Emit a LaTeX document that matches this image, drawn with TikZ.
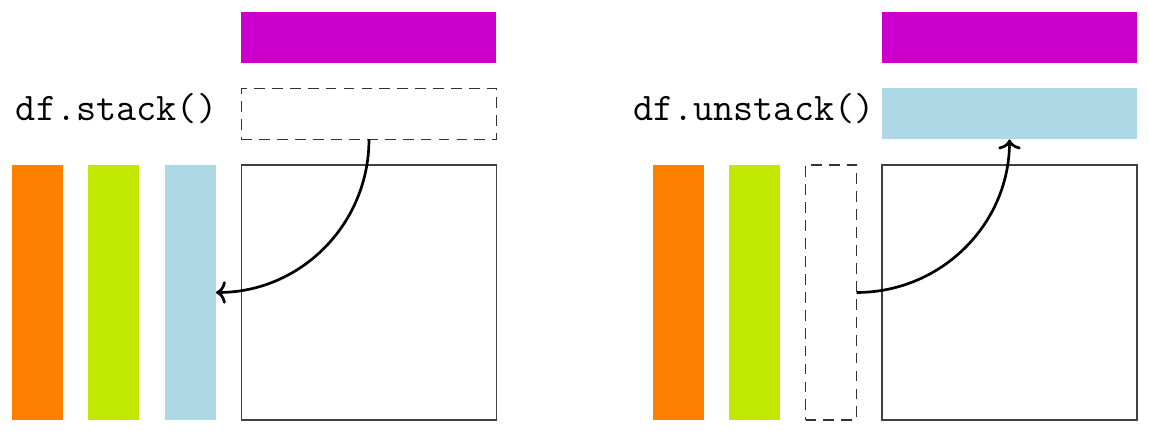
\documentclass[tikz,border=0pt]{standalone}
\usepackage{tikz}
\usetikzlibrary{positioning,arrows.meta}
\definecolor{barorange}{RGB}{255,127,0}
\definecolor{bargreen}{RGB}{192,232,0}
\definecolor{barblue}{RGB}{173,216,230}
\definecolor{barmagenta}{RGB}{204,0,204}

\begin{document}
\begin{tikzpicture}[x=0.5cm,y=0.5cm,
    col/.style={minimum width=1cm,minimum height=5cm,inner sep=0pt,outer sep=0pt,anchor=south west},
    row/.style={minimum width=5cm,minimum height=1cm,inner sep=0pt,outer sep=0pt,anchor=south west},
    frame/.style={draw=black!75,line width=0.9pt,minimum size=5cm,inner sep=0pt,outer sep=0pt,anchor=south west},
    slot/.style={draw=black!80,line width=0.9pt,dash pattern=on 6pt off 4pt},
    move/.style={-{To[length=5.5pt,width=12.5pt]},line width=1.5pt},
    lbl/.style={font=\fontsize{21.8}{26}\selectfont\ttfamily,inner sep=0pt,yshift=3pt}]
\useasboundingbox (-0.47,-0.43) rectangle (44.59,16.47);

% df.stack()
\node[col,fill=barorange] (s1) at (0,0) {};
\node[col,fill=bargreen] (s2) at (3,0) {};
\node[col,fill=barblue] (s3) at (6,0) {};
\node[frame] (sframe) at (9,0) {};
\node[row,slot] (sslot) at (9,11) {};
\node[row,fill=barmagenta] (stop) at (9,14) {};
\node[lbl,left=0.47cm of sslot] (slabel) {df.stack()};
\draw[move] (sslot.south) to[out=-90,in=0] (s3.east);

% df.unstack()
\node[col,fill=barorange] (u1) at (25.12,0) {};
\node[col,fill=bargreen] (u2) at (28.12,0) {};
\node[col,slot] (u3) at (31.12,0) {};
\node[frame] (uframe) at (34.12,0) {};
\node[row,fill=barblue] (urow) at (34.12,11) {};
\node[row,fill=barmagenta] (utop) at (34.12,14) {};
\node[lbl,left=0.14cm of urow] (ulabel) {df.unstack()};
\draw[move] (u3.east) to[out=0,in=-90] (urow.south);
\end{tikzpicture}
\end{document}
